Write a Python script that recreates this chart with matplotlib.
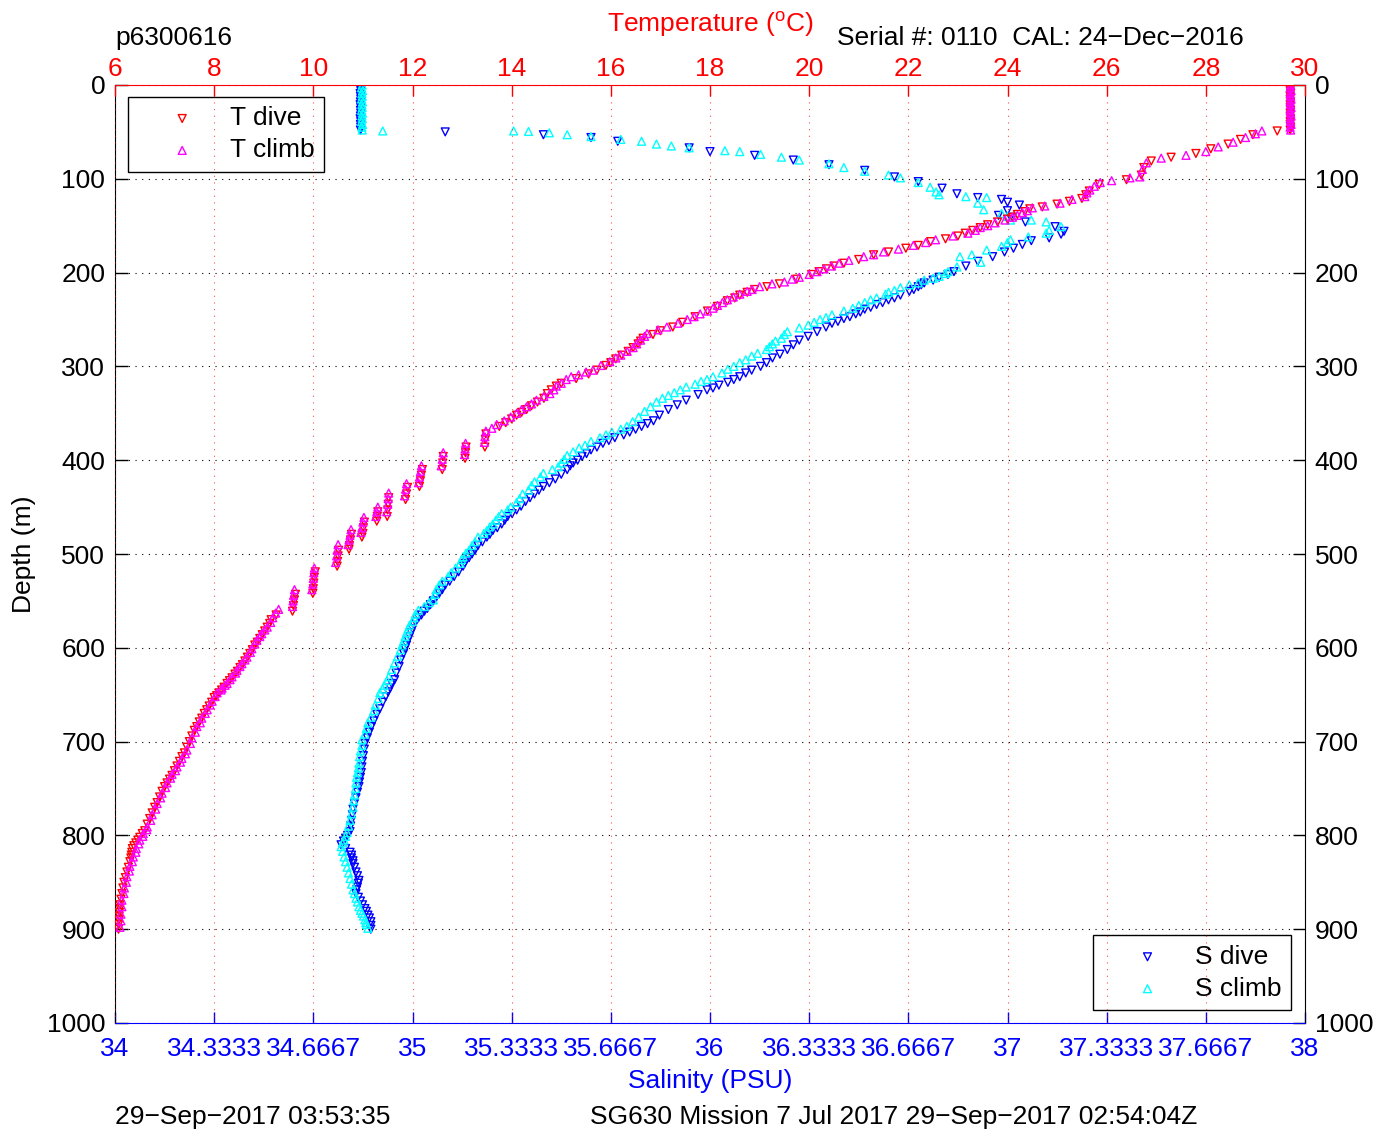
import numpy as np
import matplotlib
matplotlib.use("Agg")
import matplotlib.pyplot as plt

plt.rcParams['font.family'] = ['Liberation Sans', 'DejaVu Sans']
plt.rcParams['mathtext.fontset'] = 'custom'
plt.rcParams['mathtext.rm'] = 'Liberation Sans'

# (depth m, temperature C)
t_dive = [(0, 29.70), (3, 29.71), (6, 29.70), (9, 29.71), (12, 29.70), (15, 29.70), (18, 29.71),
          (21, 29.70), (24, 29.70), (27, 29.71), (30, 29.70), (33, 29.70), (36, 29.71), (39, 29.70),
          (42, 29.70), (45, 29.71), (48, 29.70),
          (49, 29.44), (53, 28.95), (58, 28.7), (63, 28.45), (68, 28.1), (73, 27.8), (77, 27.3),
          (81, 26.9), (88, 26.75), (96, 26.7), (101, 26.4), (106, 25.85), (113, 25.65), (121, 25.5),
          (127, 25.0), (132, 24.45), (138, 24.2), (143, 24.0), (149, 23.6), (155, 23.3), (161, 23.0),
          (167, 22.45), (174, 21.95), (181, 21.3), (190, 20.7), (196, 20.35), (202, 20.05),
          (212, 19.4), (218, 18.9), (224, 18.6), (230, 18.35), (241, 17.95), (253, 17.45),
          (262, 17.0), (270, 16.65), (276, 16.55), (284, 16.35), (292, 16.1), (299, 15.9),
          (308, 15.55), (318, 15.0), (325, 14.8), (334, 14.65), (342, 14.4), (349, 14.2),
          (356, 14.0), (364, 13.75), (372, 13.48), (378, 13.47), (386, 13.46), (386, 13.08),
          (392, 13.07), (398, 13.06), (396, 12.62), (403, 12.61), (410, 12.6), (410, 12.2),
          (416, 12.18), (422, 12.16), (428, 12.14), (429, 11.9), (436, 11.88), (442, 11.86),
          (440, 11.52), (447, 11.51), (453, 11.5), (460, 11.49), (455, 11.3), (460, 11.29),
          (465, 11.28), (466, 11.03), (472, 11.01), (478, 11.0), (482, 10.98), (479, 10.77),
          (485, 10.75), (491, 10.73), (495, 10.72), (496, 10.51), (502, 10.5), (508, 10.49),
          (513, 10.48), (519, 10.04), (525, 10.02), (531, 10.01), (537, 10.0), (542, 9.99),
          (543, 9.64), (549, 9.62), (555, 9.6), (561, 9.58), (565, 9.25), (574, 9.12),
          (582, 9.02), (590, 8.92), (597, 8.82), (606, 8.72), (614, 8.62), (621, 8.52),
          (628, 8.42), (635, 8.31), (642, 8.2), (648, 8.1), (653, 8.0), (662, 7.9), (670, 7.8),
          (679, 7.7), (688, 7.6), (700, 7.5), (712, 7.4), (721, 7.3), (731, 7.2), (740, 7.1),
          (748, 7.0), (759, 6.9), (770, 6.8), (782, 6.7), (795, 6.6), (802, 6.5), (808, 6.42),
          (814, 6.35), (821, 6.33), (828, 6.3), (839, 6.24), (850, 6.18), (862, 6.14),
          (874, 6.1), (882, 6.09), (890, 6.08), (900, 6.07)]

t_dive_more = [(117, 25.58), (124, 25.25), (130, 24.7), (135, 24.35), (141, 24.1), (146, 23.8),
               (152, 23.45), (158, 23.15), (164, 22.75), (171, 22.2), (178, 21.6), (186, 21.0),
               (193, 20.5), (199, 20.2), (207, 19.75), (215, 19.15), (221, 18.75), (227, 18.5),
               (236, 18.15), (247, 17.7), (258, 17.25), (266, 16.85), (273, 16.6), (280, 16.45),
               (288, 16.22), (296, 16.0), (304, 15.72), (313, 15.3), (321, 14.9), (329, 14.72),
               (338, 14.52), (346, 14.3), (352, 14.1), (360, 13.88),
               (570, 9.15), (578, 9.07), (586, 8.97), (594, 8.87), (602, 8.77), (610, 8.67),
               (618, 8.57), (625, 8.47), (632, 8.36), (638, 8.26), (645, 8.15), (651, 8.05),
               (658, 7.95), (666, 7.85), (675, 7.75), (684, 7.65), (694, 7.55), (706, 7.45),
               (716, 7.35), (726, 7.25), (736, 7.15), (744, 7.05), (753, 6.95), (765, 6.85),
               (776, 6.75), (788, 6.65), (798, 6.55), (805, 6.46), (811, 6.38), (818, 6.34),
               (824, 6.32), (834, 6.27), (845, 6.21), (856, 6.16), (868, 6.12), (878, 6.1),
               (886, 6.085), (895, 6.075)]

t_climb = [(0, 29.71), (3, 29.70), (6, 29.72), (9, 29.70), (12, 29.71), (15, 29.72), (18, 29.70),
           (21, 29.71), (24, 29.72), (27, 29.70), (30, 29.71), (33, 29.72), (36, 29.70), (39, 29.71),
           (42, 29.72), (45, 29.70), (48, 29.71),
           (49, 29.13), (52, 29.0), (56, 28.8), (61, 28.55), (66, 28.25), (71, 28.0), (75, 27.6),
           (78, 27.1), (83, 26.8), (90, 26.72), (98, 26.67), (99, 26.47), (102, 26.1),
           (104, 25.87), (108, 25.75), (112, 25.66), (119, 25.56), (126, 25.06), (131, 24.5),
           (136, 24.3), (141, 24.1), (147, 23.75), (152, 23.45), (158, 23.2), (165, 22.55),
           (171, 22.1), (178, 21.5), (183, 21.1), (187, 20.8), (193, 20.45), (199, 20.16),
           (205, 19.8), (210, 19.5), (215, 19.0), (220, 18.75), (226, 18.47), (232, 18.25),
           (238, 18.06), (244, 17.8), (250, 17.54), (258, 17.13), (265, 16.73), (272, 16.6),
           (280, 16.45), (288, 16.2), (295, 15.98), (304, 15.64), (309, 15.35), (314, 15.1),
           (321, 14.9), (329, 14.77), (336, 14.5), (343, 14.3), (350, 14.1), (358, 13.85),
           (362, 13.7), (366, 13.6), (369, 13.48), (375, 13.46), (381, 13.45), (382, 13.07),
           (388, 13.06), (394, 13.05), (392, 12.62), (399, 12.6), (406, 12.58), (406, 12.18),
           (412, 12.16), (418, 12.14), (424, 12.12), (425, 11.88), (431, 11.86), (438, 11.84),
           (435, 11.52), (441, 11.51), (447, 11.5), (455, 11.48), (450, 11.3), (455, 11.28),
           (460, 11.26), (461, 11.02), (466, 11.0), (472, 10.98), (477, 10.96), (474, 10.76),
           (480, 10.74), (485, 10.72), (490, 10.70), (490, 10.5), (496, 10.48), (502, 10.47),
           (509, 10.45), (515, 10.02), (520, 10.01), (526, 10.0), (532, 9.99), (538, 9.97),
           (538, 9.62), (544, 9.6), (550, 9.59), (556, 9.58), (559, 9.30), (568, 9.18),
           (578, 9.07), (585, 8.96), (592, 8.86), (601, 8.76), (610, 8.66), (617, 8.56),
           (624, 8.46), (631, 8.36), (638, 8.26), (643, 8.16), (648, 8.06), (657, 7.96),
           (666, 7.86), (675, 7.75), (684, 7.65), (696, 7.55), (709, 7.45), (718, 7.35),
           (727, 7.25), (735, 7.15), (744, 7.05), (755, 6.95), (766, 6.85), (778, 6.75),
           (791, 6.65), (798, 6.57), (805, 6.50), (814, 6.43), (823, 6.37), (833, 6.30),
           (844, 6.24), (856, 6.19), (869, 6.14), (884, 6.12), (898, 6.10)]

t_climb_more = [(115, 25.6), (122, 25.3), (129, 24.75), (134, 24.4), (139, 24.2), (144, 23.95),
                (150, 23.6), (155, 23.35), (161, 22.9), (168, 22.35), (175, 21.8), (181, 21.3),
                (190, 20.6), (196, 20.3), (202, 20.0), (207, 19.65), (212, 19.25), (218, 18.85),
                (223, 18.6), (229, 18.35), (235, 18.15), (241, 17.95), (247, 17.68), (254, 17.35),
                (261, 16.95), (268, 16.68), (276, 16.52), (284, 16.33), (291, 16.1), (299, 15.8),
                (306, 15.5), (311, 15.2), (318, 15.0), (325, 14.85), (332, 14.65), (340, 14.4),
                (346, 14.2), (354, 13.98),
                (563, 9.24), (573, 9.14), (581, 9.02), (588, 8.92), (596, 8.82), (605, 8.73),
                (613, 8.62), (620, 8.52), (627, 8.43), (634, 8.32), (640, 8.22), (645, 8.14),
                (652, 8.02), (661, 7.92), (670, 7.82), (680, 7.72), (690, 7.62), (702, 7.52),
                (713, 7.42), (722, 7.32), (731, 7.22), (739, 7.12), (749, 7.02), (760, 6.92),
                (772, 6.82), (784, 6.72), (794, 6.64), (801, 6.56), (809, 6.48), (818, 6.42),
                (828, 6.35), (838, 6.29), (850, 6.23), (862, 6.18), (876, 6.14), (891, 6.12)]

# (depth m, salinity PSU)
s_dive = [(0, 34.826), (3, 34.825), (6, 34.826), (9, 34.824), (12, 34.825), (15, 34.826),
          (18, 34.825), (21, 34.824), (24, 34.826), (27, 34.825), (30, 34.826), (33, 34.825),
          (36, 34.824), (39, 34.826), (42, 34.825), (45, 34.826), (48, 34.825),
          (50, 35.11), (53, 35.44), (56, 35.60), (60, 35.69), (67, 35.93), (71, 36.0),
          (75, 36.15), (80, 36.28), (85, 36.40), (91, 36.52), (98, 36.62), (103, 36.70),
          (110, 36.78), (116, 36.83), (120, 36.90), (122, 36.98), (125, 37.00), (128, 37.04),
          (134, 37.00), (139, 36.97), (141, 37.01), (146, 37.06), (151, 37.16), (156, 37.19),
          (159, 37.18), (163, 37.14), (166, 37.08), (170, 37.05), (174, 37.02), (178, 36.99),
          (183, 36.95), (188, 36.90), (193, 36.86), (199, 36.82), (205, 36.77), (211, 36.72),
          (215, 36.70), (220, 36.67), (224, 36.64), (229, 36.60), (234, 36.56), (239, 36.52),
          (244, 36.49), (249, 36.45), (254, 36.41), (263, 36.36), (272, 36.30), (282, 36.26),
          (291, 36.21), (300, 36.17), (307, 36.12), (314, 36.08), (320, 36.03), (325, 35.99),
          (336, 35.92), (346, 35.86), (358, 35.81), (364, 35.77), (370, 35.73), (376, 35.68),
          (382, 35.64), (389, 35.60), (396, 35.57), (403, 35.54), (410, 35.52), (420, 35.48),
          (428, 35.44), (436, 35.41), (444, 35.38), (453, 35.35), (460, 35.32), (468, 35.30),
          (475, 35.27), (482, 35.25), (491, 35.22), (500, 35.20), (507, 35.18), (513, 35.17),
          (524, 35.14), (533, 35.11), (542, 35.09), (550, 35.07), (558, 35.05), (565, 35.03),
          (572, 35.01), (580, 35.00), (588, 34.99), (597, 34.98), (606, 34.97), (620, 34.955),
          (634, 34.94), (643, 34.925), (652, 34.91), (665, 34.89), (678, 34.87), (690, 34.855),
          (702, 34.84), (715, 34.835), (727, 34.83), (738, 34.825), (748, 34.82), (760, 34.81),
          (772, 34.80), (784, 34.795), (796, 34.79), (803, 34.775), (810, 34.76), (818, 34.79),
          (824, 34.795), (830, 34.80), (839, 34.81), (848, 34.82), (855, 34.815), (862, 34.81),
          (870, 34.825), (878, 34.84), (885, 34.85), (892, 34.86), (900, 34.86)]

s_dive_more = [(202, 36.80), (208, 36.75), (213, 36.71), (218, 36.685), (227, 36.62), (232, 36.58),
               (237, 36.54), (242, 36.505), (247, 36.47), (252, 36.43), (258, 36.39), (268, 36.33),
               (277, 36.28), (287, 36.235), (296, 36.19), (304, 36.14), (311, 36.10), (317, 36.06),
               (323, 36.01), (330, 35.96), (341, 35.89), (352, 35.83), (361, 35.79), (367, 35.75),
               (373, 35.71), (379, 35.66), (386, 35.62), (393, 35.585), (400, 35.555), (406, 35.53),
               (415, 35.50), (424, 35.46), (432, 35.425), (440, 35.395), (449, 35.365),
               (457, 35.335), (464, 35.31), (472, 35.285), (479, 35.26), (487, 35.235),
               (496, 35.21), (504, 35.19), (510, 35.175), (519, 35.155), (529, 35.125),
               (538, 35.10), (546, 35.08), (554, 35.06),
               (561, 35.04), (568, 35.02), (576, 35.005), (584, 34.995), (592, 34.985),
               (601, 34.975), (613, 34.96), (627, 34.945), (638, 34.93), (647, 34.918),
               (658, 34.90), (671, 34.88), (684, 34.862), (696, 34.848), (708, 34.838),
               (721, 34.832), (733, 34.828), (743, 34.822), (754, 34.815), (766, 34.805),
               (778, 34.798), (790, 34.792), (800, 34.782), (806, 34.768), (814, 34.775),
               (821, 34.795), (827, 34.80), (834, 34.805), (843, 34.815), (851, 34.818),
               (858, 34.812), (866, 34.818), (874, 34.832), (881, 34.845), (888, 34.855),
               (896, 34.86)]

s_climb = [(0, 34.831), (3, 34.829), (6, 34.832), (9, 34.830), (12, 34.831), (15, 34.829),
           (18, 34.832), (21, 34.830), (24, 34.831), (27, 34.829), (30, 34.832), (33, 34.830),
           (36, 34.831), (39, 34.829), (42, 34.832), (45, 34.830), (48, 34.831),
           (49, 34.90), (49, 35.34), (49.5, 35.39), (51, 35.46), (53, 35.52), (55, 35.60),
           (58, 35.70), (60, 35.77), (63, 35.82), (65, 35.87), (67, 35.93), (70, 36.05),
           (71, 36.10), (74, 36.17), (77, 36.24), (80, 36.30), (84, 36.40), (88, 36.45),
           (92, 36.52), (96, 36.60), (99, 36.64), (104, 36.70), (109, 36.74), (114, 36.76),
           (117, 36.77), (119, 36.86), (120, 36.93), (126, 36.90), (133, 36.92), (137, 36.98),
           (140, 37.00), (144, 37.01), (144, 37.08), (146, 37.13), (151, 37.18), (155, 37.14),
           (158, 37.13), (162, 37.07), (165, 37.01), (168, 37.00), (172, 36.98), (176, 36.93),
           (181, 36.88), (183, 36.84), (189, 36.91), (194, 36.83), (199, 36.80), (204, 36.77),
           (208, 36.72), (211, 36.70), (216, 36.64), (219, 36.62), (223, 36.59), (227, 36.56),
           (232, 36.52), (238, 36.48), (245, 36.41), (250, 36.37), (256, 36.33), (263, 36.26),
           (270, 36.24), (276, 36.21), (282, 36.19), (289, 36.14), (296, 36.10), (303, 36.06),
           (311, 36.01), (316, 35.97), (322, 35.92), (328, 35.88), (334, 35.84), (343, 35.80),
           (354, 35.76), (364, 35.72), (370, 35.67), (376, 35.63), (384, 35.58), (391, 35.54),
           (399, 35.51), (407, 35.49), (414, 35.44), (423, 35.41), (432, 35.39), (441, 35.36),
           (450, 35.33), (457, 35.30), (464, 35.28), (471, 35.26), (478, 35.24), (487, 35.21),
           (496, 35.19), (503, 35.17), (510, 35.16), (520, 35.13), (529, 35.10), (538, 35.08),
           (549, 35.07), (556, 35.04), (560, 35.02), (568, 35.005), (576, 34.99), (584, 34.98),
           (593, 34.97), (602, 34.96), (616, 34.94), (631, 34.92), (640, 34.905), (648, 34.89),
           (661, 34.875), (674, 34.86), (686, 34.845), (698, 34.83), (710, 34.825), (723, 34.82),
           (733, 34.815), (744, 34.81), (757, 34.805), (770, 34.80), (784, 34.79), (797, 34.78),
           (805, 34.77), (812, 34.76), (823, 34.77), (834, 34.78), (846, 34.79), (858, 34.80),
           (867, 34.81), (876, 34.82), (883, 34.83), (890, 34.84), (895, 34.845), (899, 34.85)]

s_climb_more = [(201, 36.79), (206, 36.75), (213, 36.67), (221, 36.60), (229, 36.54), (235, 36.50),
                (241, 36.45), (248, 36.39), (253, 36.35), (259, 36.30), (266, 36.25), (273, 36.22),
                (279, 36.20), (286, 36.16), (293, 36.12), (300, 36.08), (307, 36.04), (314, 35.99),
                (319, 35.95), (325, 35.90), (331, 35.86), (338, 35.82), (348, 35.78), (359, 35.74),
                (367, 35.70), (373, 35.65), (380, 35.60), (387, 35.56), (395, 35.52), (403, 35.50),
                (410, 35.47), (418, 35.43), (427, 35.40), (436, 35.37), (445, 35.35), (453, 35.32),
                (460, 35.29), (468, 35.27), (475, 35.25), (482, 35.22), (491, 35.20), (499, 35.18),
                (506, 35.165), (515, 35.145), (524, 35.12), (533, 35.09), (543, 35.075),
                (552, 35.055),
                (564, 35.01), (572, 35.0), (580, 34.985), (588, 34.975), (597, 34.965),
                (609, 34.95), (623, 34.93), (635, 34.915), (644, 34.90), (654, 34.885),
                (667, 34.87), (680, 34.85), (692, 34.84), (704, 34.83), (716, 34.822),
                (728, 34.818), (738, 34.812), (750, 34.808), (763, 34.802), (777, 34.795),
                (790, 34.785), (801, 34.775), (808, 34.765), (817, 34.765), (828, 34.775),
                (840, 34.785), (852, 34.795), (862, 34.805), (871, 34.815), (880, 34.825),
                (886, 34.835), (893, 34.843)]

temp_ticks = [6, 8, 10, 12, 14, 16, 18, 20, 22, 24, 26, 28, 30]
sal_ticks = [34, 34 + 1/3, 34 + 2/3, 35, 35 + 1/3, 35 + 2/3, 36, 36 + 1/3, 36 + 2/3,
             37, 37 + 1/3, 37 + 2/3, 38]
sal_labels = ['34', '34.3333', '34.6667', '35', '35.3333', '35.6667', '36', '36.3333',
              '36.6667', '37', '37.3333', '37.6667', '38']
depth_ticks = [0, 100, 200, 300, 400, 500, 600, 700, 800, 900, 1000]

td = np.array(t_dive + t_dive_more).T
tc = np.array(t_climb + t_climb_more).T
sd = np.array(s_dive + s_dive_more).T
sc = np.array(s_climb + s_climb_more).T

W, H = 1390, 1136
fig = plt.figure(figsize=(W / 100, H / 100), dpi=100)
ax = fig.add_axes([115 / W, 1 - 1023 / H, 1190 / W, 938 / H])
ax_t = ax.twiny()

fs = 19
ms = 32
lw = 1.0

# salinity on bottom axis
hs1 = ax.scatter(sd[1], sd[0], marker='v', s=ms, facecolors='none', edgecolors='blue', linewidths=lw)
hs2 = ax.scatter(sc[1], sc[0], marker='^', s=ms, facecolors='none', edgecolors='cyan', linewidths=lw)
ax.set_xlim(34, 38)
ax.set_ylim(1000, 0)
ax.set_xticks(sal_ticks)
ax.set_xticklabels(sal_labels)
ax.set_yticks(depth_ticks)
ax.tick_params(axis='x', colors='blue', direction='in', length=8, width=1, labelsize=fs, pad=10)
ax.tick_params(axis='y', direction='in', length=9, width=1, labelsize=fs, pad=7,
               right=True, labelright=True)
ax.set_xlabel('Salinity (PSU)', color='blue', fontsize=fs, labelpad=6)
ax.set_ylabel('Depth (m)', fontsize=fs, labelpad=8)
ax.grid(axis='y', color='black', linestyle=(0, (1, 5)), linewidth=0.8)
ax.spines['bottom'].set_color('blue')
ax.spines['top'].set_visible(False)

# temperature on top axis
ht1 = ax_t.scatter(td[1], td[0], marker='v', s=ms, facecolors='none', edgecolors='red', linewidths=lw)
ht2 = ax_t.scatter(tc[1], tc[0], marker='^', s=ms, facecolors='none', edgecolors='magenta', linewidths=lw)
ax_t.set_xlim(6, 30)
ax_t.set_ylim(1000, 0)
ax_t.set_xticks(temp_ticks)
ax_t.tick_params(axis='x', colors='red', direction='in', length=8, width=1, labelsize=fs, pad=3)
ax_t.set_xlabel(r'Temperature ($^{\rm o}$C)', color='red', fontsize=fs, labelpad=18)
ax_t.grid(axis='x', color='red', linestyle=(0, (1, 5)), linewidth=0.8, alpha=0.7)
ax_t.spines['top'].set_color('red')
for side in ['bottom', 'left', 'right']:
    ax_t.spines[side].set_visible(False)

leg_t = ax.legend([ht1, ht2], ['T dive', 'T climb'], loc='upper left',
                  bbox_to_anchor=(0.011, 0.987), borderaxespad=0, fontsize=fs,
                  fancybox=False, edgecolor='black', framealpha=1, handlelength=3.4,
                  handletextpad=0.1, labelspacing=0.3, borderpad=0.35, scatterpoints=1)
leg_t.get_frame().set_linewidth(1.0)
ax.add_artist(leg_t)
leg_s = ax.legend([hs1, hs2], ['S dive', 'S climb'], loc='lower right',
                  bbox_to_anchor=(0.988, 0.014), borderaxespad=0, fontsize=fs,
                  fancybox=False, edgecolor='black', framealpha=1, handlelength=3.4,
                  handletextpad=0.1, labelspacing=0.3, borderpad=0.35, scatterpoints=1)
leg_s.get_frame().set_linewidth(1.0)

fig.text(115 / W, 1 - 38 / H, 'p6300616', fontsize=fs, va='center', ha='left')
fig.text(837 / W, 1 - 38 / H, 'Serial #: 0110  CAL: 24\u2212Dec\u22122016', fontsize=fs,
         va='center', ha='left')
fig.text(115 / W, 1 - 1117 / H, '29\u2212Sep\u22122017 03:53:35', fontsize=fs,
         va='center', ha='left')
fig.text(590 / W, 1 - 1117 / H, 'SG630 Mission 7 Jul 2017 29\u2212Sep\u22122017 02:54:04Z',
         fontsize=fs, va='center', ha='left')

fig.savefig('out.png', dpi=100)
